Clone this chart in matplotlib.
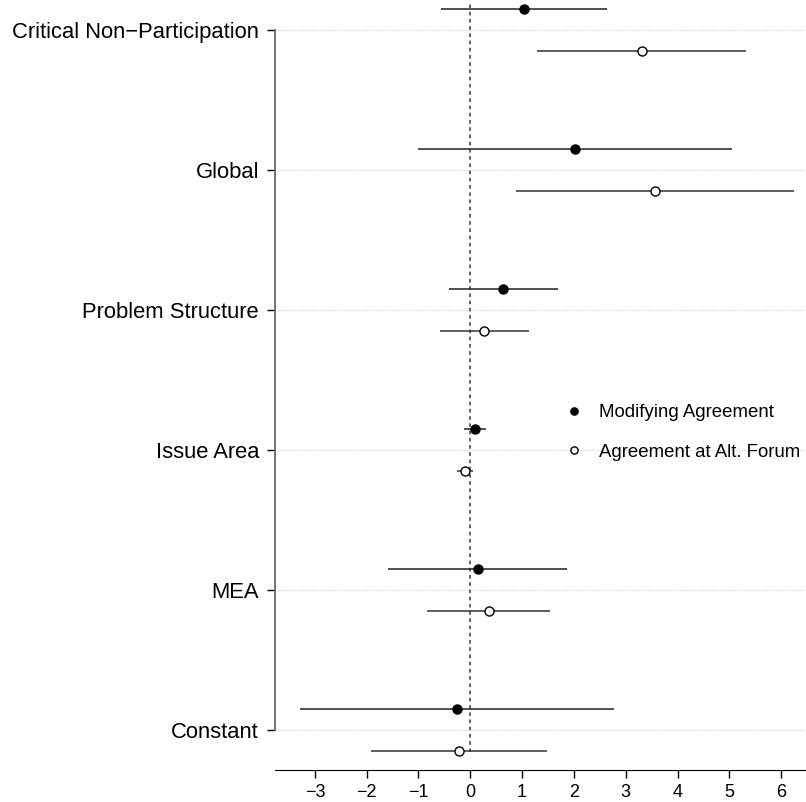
import numpy as np
import matplotlib.pyplot as plt

plt.rcParams['font.family'] = ['Liberation Sans', 'DejaVu Sans']

# Coefficient plot: point estimates and confidence intervals
labels = ['Constant', 'MEA', 'Issue Area', 'Problem Structure', 'Global',
          'Critical Non\u2212Participation']

# Modifying Agreement (filled)
mod_est = [-0.26, 0.15, 0.09, 0.64, 2.03, 1.03]
mod_lo = [-3.29, -1.58, -0.12, -0.42, -1.01, -0.57]
mod_hi = [2.77, 1.87, 0.31, 1.70, 5.06, 2.64]

# Agreement at Alt. Forum (open)
alt_est = [-0.22, 0.36, -0.10, 0.27, 3.56, 3.31]
alt_lo = [-1.91, -0.84, -0.25, -0.58, 0.89, 1.29]
alt_hi = [1.49, 1.54, 0.05, 1.13, 6.24, 5.32]

x_ticks = [-3, -2, -1, 0, 1, 2, 3, 4, 5, 6]

fig = plt.figure(figsize=(8.06, 8.02), dpi=100)
ax = fig.add_axes([275 / 806, 32 / 802, 531 / 806, 770 / 802])

y = np.arange(len(labels))
off = 0.15

# horizontal grid lines
for yy in y:
    ax.axhline(yy, color='#cccccc', lw=0.8, ls=(0, (1, 1.5)), zorder=0)

# zero reference line
ax.axvline(0, ymin=0.023, ymax=0.996, color='#555555', lw=1.3,
           ls=(0, (2, 2)), zorder=1)

ax.hlines(y + off, mod_lo, mod_hi, color='#222222', lw=1.1, zorder=2)
ax.hlines(y - off, alt_lo, alt_hi, color='#333333', lw=1.1, zorder=2)
ax.plot(mod_est, y + off, 'o', color='black', ms=6.5, zorder=3,
        label='Modifying Agreement', ls='none')
ax.plot(alt_est, y - off, 'o', mfc='white', mec='black', mew=1.0, ms=6.5,
        zorder=3, label='Agreement at Alt. Forum', ls='none')

ax.set_xlim(-3.77, 6.48)
ax.set_ylim(-0.286, 5.214)

ax.set_yticks(y)
ax.set_yticklabels(labels, fontsize=15.8)
ax.set_xticks(x_ticks)
ax.set_xticklabels([str(t).replace('-', '\u2212') for t in x_ticks], fontsize=13)

ax.spines['top'].set_visible(False)
ax.spines['right'].set_visible(False)
ax.spines['left'].set_bounds(0, 5)
ax.spines['left'].set_color('#666666')
ax.spines['left'].set_linewidth(1.3)
ax.tick_params(axis='y', length=6, width=1, pad=5.5)
ax.tick_params(axis='x', length=6, width=1, pad=4)

ax.legend(loc='center left', bbox_to_anchor=(0.496, 0.4384), frameon=False,
          fontsize=13.4, handletextpad=0.38, labelspacing=1.2,
          markerscale=0.8, borderpad=0.4)

fig.savefig('out.png', dpi=100)
